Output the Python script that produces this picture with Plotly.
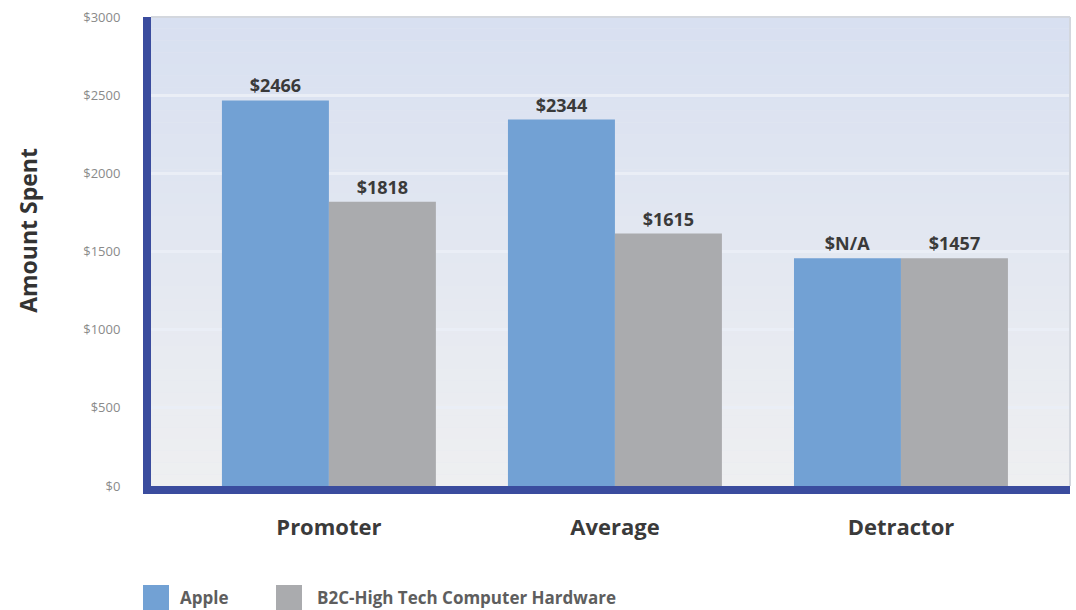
import plotly.graph_objects as go

# Spending by customer group
categories = ["Promoter", "Average", "Detractor"]
series_names = ["Apple", "B2C-High Tech Computer Hardware"]
apple_values = [2466, 2344, 1457]
apple_labels = ["$2466", "$2344", "$N/A"]
hardware_values = [1818, 1615, 1457]
hardware_labels = ["$1818", "$1615", "$1457"]
y_ticks = [0, 500, 1000, 1500, 2000, 2500, 3000]
y_tick_labels = ["$0", "$500", "$1000", "$1500", "$2000", "$2500", "$3000"]

BLUE = "#72a1d4"
GRAY = "#aaabae"
AXIS = "#3a4c9e"
FONT = "Open Sans"

fig = go.Figure()
for name, vals, labels, color in [
    (series_names[0], apple_values, apple_labels, BLUE),
    (series_names[1], hardware_values, hardware_labels, GRAY),
]:
    fig.add_trace(go.Bar(
        x=categories, y=vals, name=name, text=labels,
        textposition="outside", cliponaxis=False,
        textfont=dict(family=FONT, size=18, color="#3a3a3a", weight="bold"),
        marker=dict(color=color, line=dict(width=0)),
        showlegend=False,
    ))

# vertical gradient behind the bars (light blue at top fading to pale grey)
top_rgb = (216, 224, 241)
bot_rgb = (238, 239, 241)
n_strips = 40
shapes = []
for i in range(n_strips):
    t = i / (n_strips - 1)
    c = tuple(round(bot_rgb[k] + (top_rgb[k] - bot_rgb[k]) * t) for k in range(3))
    shapes.append(dict(
        type="rect", xref="paper", yref="paper",
        x0=0, x1=1, y0=i / n_strips, y1=(i + 1) / n_strips,
        fillcolor="rgb(%d,%d,%d)" % c, line=dict(width=0), layer="below",
    ))
# thin frame on the top and right edges
shapes.append(dict(type="line", xref="paper", yref="paper", x0=0, x1=1, y0=1, y1=1,
                   line=dict(color="#d3d7de", width=2)))
shapes.append(dict(type="line", xref="paper", yref="paper", x0=1, x1=1, y0=0, y1=1,
                   line=dict(color="#d3d7de", width=2)))

# legend swatches drawn underneath the chart
legend_items = [
    (series_names[0], BLUE, -0.0087, 0.0294),
    (series_names[1], GRAY, 0.136, 0.1785),
]
annotations = []
for name, color, sx, tx in legend_items:
    shapes.append(dict(type="rect", xref="paper", yref="paper",
                       x0=sx, x1=sx + 0.0283, y0=-0.2665, y1=-0.2111,
                       fillcolor=color, line=dict(width=0)))
    annotations.append(dict(
        xref="paper", yref="paper", x=tx, y=-0.238, xanchor="left", yanchor="middle",
        text=name, showarrow=False,
        font=dict(family=FONT, size=17, color="#5e5e5e", weight="bold"),
    ))

annotations.append(dict(
    xref="paper", yref="paper", x=0, y=0.544, xshift=-123, xanchor="center", yanchor="middle",
    text="Amount Spent", textangle=-90, showarrow=False,
    font=dict(family=FONT, size=23, color="#333333", weight="bold"),
))

fig.update_layout(
    width=1076, height=610,
    margin=dict(l=151, r=6, t=17, b=124),
    paper_bgcolor="white",
    plot_bgcolor="rgb(228,232,240)",
    barmode="group", bargap=0.252, bargroupgap=0,
    shapes=shapes, annotations=annotations,
    xaxis=dict(
        range=[-0.622, 2.591], showgrid=False, zeroline=False,
        showline=True, linecolor=AXIS, linewidth=8,
        tickfont=dict(family=FONT, size=22, color="#3a3a3a", weight="bold"),
        ticks="outside", ticklen=15, tickcolor="rgba(0,0,0,0)",
    ),
    yaxis=dict(
        range=[0, 3000], tickvals=y_ticks, ticktext=y_tick_labels,
        showgrid=True, gridcolor="#eaeef6", gridwidth=3, zeroline=False,
        showline=True, linecolor=AXIS, linewidth=8,
        tickfont=dict(family=FONT, size=13, color="#8a8a8a"),
        ticks="outside", ticklen=20, tickcolor="rgba(0,0,0,0)",
    ),
)

fig.write_html("out.html")
